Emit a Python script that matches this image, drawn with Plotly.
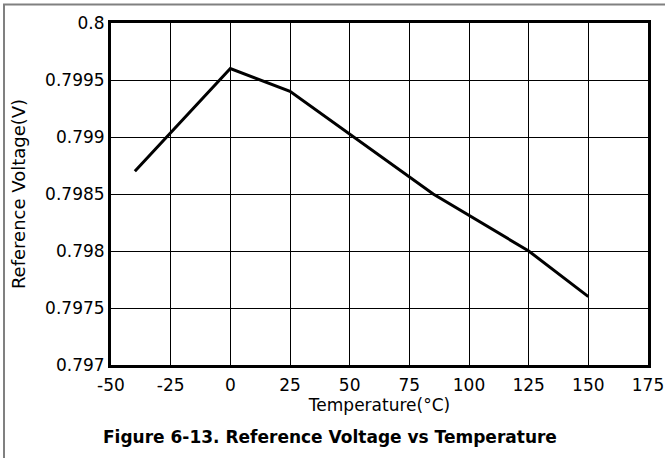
import plotly.graph_objects as go

temperature = [-40, 0, 25, 85, 125, 150]
voltage = [0.7987, 0.7996, 0.7994, 0.7985, 0.7980, 0.7976]

x_ticks = [-50, -25, 0, 25, 50, 75, 100, 125, 150, 175]
y_ticks = [0.797, 0.7975, 0.798, 0.7985, 0.799, 0.7995, 0.8]
y_labels = ["0.797", "0.7975", "0.798", "0.7985", "0.799", "0.7995", "0.8"]

W, H = 665, 458
L, R, T, B = 111, 17, 23, 93
pw, ph = W - L - R, H - T - B

font = "DejaVu Sans, Liberation Sans, Arial, sans-serif"

fig = go.Figure()
fig.add_trace(go.Scatter(x=temperature, y=voltage, mode="lines",
                         line=dict(color="black", width=3), showlegend=False,
                         hoverinfo="skip"))

fig.update_layout(
    width=W, height=H,
    margin=dict(l=L, r=R, t=T, b=B, autoexpand=False),
    paper_bgcolor="white", plot_bgcolor="white",
    font=dict(family=font, size=17, color="black"),
)
fig.update_xaxes(
    range=[-50, 175], tickvals=x_ticks, ticktext=[str(v) for v in x_ticks],
    showgrid=True, gridcolor="black", gridwidth=1,
    showline=True, linecolor="black", linewidth=3, mirror=True,
    ticks="", zeroline=False, ticklabelstandoff=3,
    title=dict(text="Temperature(°C)", standoff=2, font=dict(size=17)),
    tickfont=dict(size=17),
)
fig.update_yaxes(
    range=[0.797, 0.8], tickvals=y_ticks, ticktext=y_labels,
    showgrid=True, gridcolor="black", gridwidth=1,
    showline=True, linecolor="black", linewidth=3, mirror=True,
    ticks="", zeroline=False,
    title=dict(text="Reference Voltage(V)", standoff=15, font=dict(size=18)),
    tickfont=dict(size=17),
)

# outer gray frame
fig.add_shape(type="rect", xref="paper", yref="paper",
              x0=(4 - L) / pw, x1=(W + 10 - L) / pw,
              y0=-(H + 10 - T - ph) / ph, y1=1 + (T - 4.5) / ph,
              line=dict(color="#808080", width=2), fillcolor="rgba(0,0,0,0)", layer="below")

fig.add_annotation(
    text="<b>Figure 6-13. Reference Voltage vs Temperature</b>",
    xref="paper", yref="paper",
    x=(330 - L) / pw, y=-(437 - T - ph) / ph,
    xanchor="center", yanchor="middle", showarrow=False,
    font=dict(family=font, size=17, color="black"),
)

fig.write_html("out.html", config={"displayModeBar": False},
               post_script="document.body.style.margin='0';document.body.style.overflow='hidden';")
